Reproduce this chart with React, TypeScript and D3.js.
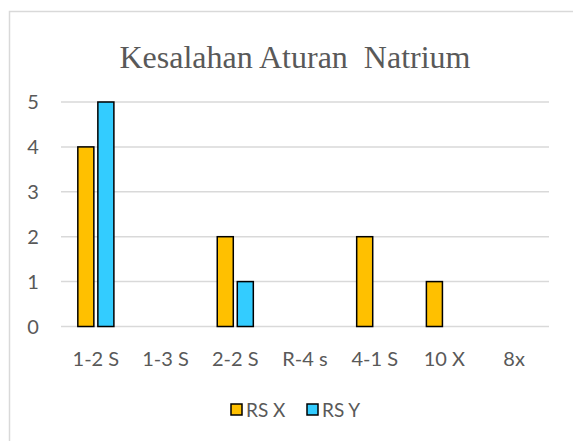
import React from 'react';
import * as d3 from 'd3';

const categories = ['1-2 S', '1-3 S', '2-2 S', 'R-4 s', '4-1 S', '10 X', '8x'];
const seriesNames = ['RS X', 'RS Y'];
const rsX = [4, 0, 2, 0, 2, 1, 0];
const rsY = [5, 0, 1, 0, 0, 0, 0];
const yTicks = [0, 1, 2, 3, 4, 5];
const colors = ['#FFC000', '#33CCFF'];

const W = 573;
const H = 441;
const plot = { left: 61, right: 549, top: 102, bottom: 326.5 };

export default function App() {
  const x = d3.scaleBand().domain(categories).range([plot.left, plot.right]);
  const y = d3.scaleLinear().domain([0, 5]).range([plot.bottom, plot.top]);
  const barW = x.bandwidth() * 0.23;
  const gap = 4;
  const series = [rsX, rsY];
  const sans = "Lato, 'Open Sans', sans-serif";
  const fs = 20;

  return (
    <svg width={W} height={H} style={{ position: 'absolute', left: 0, top: 0 }}>
      <rect x={0} y={0} width={W} height={H} fill="#fff" />
      <rect x={9.5} y={11.5} width={600} height={500} fill="none" stroke="#d9d9d9" strokeWidth={1.5} />
      <text x={295} y={68} textAnchor="middle" fontFamily="'Liberation Serif', serif" fontSize={32} fill="#595959">
        Kesalahan Aturan{'\u00a0'} Natrium
      </text>
      {yTicks.map(t => (
        <g key={t}>
          <line x1={plot.left} x2={plot.right} y1={y(t)} y2={y(t)} stroke="#d9d9d9" strokeWidth={1.5} />
          <text x={33} y={y(t)} dy="0.36em" textAnchor="middle" fontFamily={sans} fontSize={fs} fill="#595959">{t}</text>
        </g>
      ))}
      {series.map((vals, si) =>
        vals.map((v, i) => {
          if (!v) return null;
          const cx = x(categories[i])! + x.bandwidth() / 2;
          const bx = si === 0 ? cx - gap / 2 - barW : cx + gap / 2;
          return (
            <rect key={`${si}-${i}`} x={bx} y={y(v)} width={barW} height={y(0) - y(v)}
              fill={colors[si]} stroke="#000" strokeWidth={1.5} />
          );
        })
      )}
      {categories.map(c => (
        <text key={c} x={x(c)! + x.bandwidth() / 2} y={366} textAnchor="middle" fontFamily={sans} fontSize={fs} fill="#595959">{c}</text>
      ))}
      {seriesNames.map((s, i) => {
        const lx = 231 + i * 76;
        return (
          <g key={s}>
            <rect x={lx} y={404} width={11} height={11} fill={colors[i]} stroke="#000" strokeWidth={1.5} />
            <text x={lx + 15} y={417} fontFamily={sans} fontSize={19} fill="#595959">{s}</text>
          </g>
        );
      })}
    </svg>
  );
}
